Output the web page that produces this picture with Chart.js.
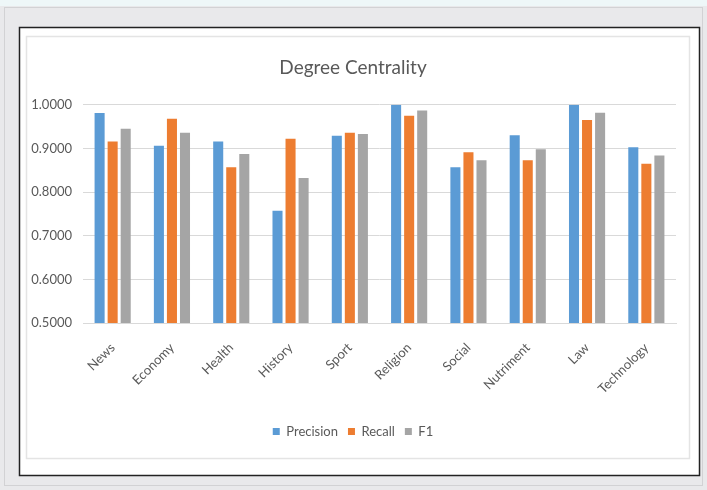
<!DOCTYPE html>
<html>
<head>
<meta charset="utf-8">
<script src="https://cdn.jsdelivr.net/npm/chart.js@4/dist/chart.umd.min.js"></script>
<style>
  html, body { margin: 0; padding: 0; background: #e9e9eb; }
  #wrap { width: 707px; height: 490px; position: relative; }
  canvas { display: block; }
</style>
</head>
<body>
<div id="wrap"><canvas id="c" width="707" height="490"></canvas></div>
<script>
// Categories and scores for the degree-centrality evaluation
const categories = ['News', 'Economy', 'Health', 'History', 'Sport', 'Religion', 'Social', 'Nutriment', 'Law', 'Technology'];
const precision = [0.981, 0.906, 0.916, 0.757, 0.929, 1.000, 0.857, 0.930, 1.000, 0.903];
const recall    = [0.916, 0.968, 0.857, 0.922, 0.936, 0.975, 0.891, 0.873, 0.965, 0.865];
const f1        = [0.945, 0.936, 0.887, 0.832, 0.933, 0.987, 0.873, 0.898, 0.982, 0.884];
const yTicks = [0.5, 0.6, 0.7, 0.8, 0.9, 1.0];

const FONT = 'Lato, "Open Sans", sans-serif';
const TEXT = '#595959';

// Page frame: grey backdrop, black outline and the pale chart-area border
const framePlugin = {
  id: 'frame',
  beforeDraw(chart) {
    const ctx = chart.ctx;
    ctx.save();
    ctx.fillStyle = '#e9e9eb';
    ctx.fillRect(0, 0, 707, 490);
    ctx.fillStyle = '#eef7f8';
    ctx.fillRect(0, 0, 707, 6);
    ctx.strokeStyle = '#d2d2d4';
    ctx.lineWidth = 1;
    ctx.strokeRect(4.5, 7.5, 698, 478);
    ctx.fillStyle = '#ffffff';
    ctx.fillRect(19, 27, 681, 449);
    ctx.strokeStyle = '#222222';
    ctx.lineWidth = 1.5;
    ctx.strokeRect(19.5, 27.5, 680, 448);
    ctx.strokeStyle = '#e4e4e4';
    ctx.lineWidth = 1.5;
    ctx.strokeRect(26.5, 36.5, 663, 422);
    ctx.restore();
  }
};

new Chart(document.getElementById('c'), {
  type: 'bar',
  data: {
    labels: categories,
    datasets: [
      { label: 'Precision', data: precision, backgroundColor: '#5b9bd5' },
      { label: 'Recall', data: recall, backgroundColor: '#ed7d31' },
      { label: 'F1', data: f1, backgroundColor: '#a5a5a5' }
    ]
  },
  options: {
    responsive: false,
    animation: false,
    devicePixelRatio: 1,
    datasets: { bar: { categoryPercentage: 0.66, barPercentage: 0.77 } },
    layout: { padding: { left: 30, right: 31, top: 56, bottom: 42 } },
    plugins: {
      title: {
        display: true,
        text: 'Degree Centrality',
        color: TEXT,
        font: { family: FONT, size: 19, weight: 'normal' },
        padding: { top: 0, bottom: 26 }
      },
      legend: {
        position: 'bottom',
        labels: {
          color: TEXT,
          font: { family: FONT, size: 13 },
          boxWidth: 7,
          boxHeight: 7,
          padding: 10
        }
      },
      tooltip: { enabled: false }
    },
    scales: {
      x: {
        grid: { display: false },
        border: { display: true, color: '#d9d9d9' },
        ticks: {
          color: TEXT,
          font: { family: FONT, size: 13 },
          minRotation: 45,
          maxRotation: 45,
          padding: 9
        },
        afterFit(s) { s.height = 92; }
      },
      y: {
        min: 0.5,
        max: 1.0,
        afterBuildTicks(s) { s.ticks = yTicks.map(v => ({ value: v })); },
        grid: { color: '#d9d9d9', drawTicks: false },
        border: { display: false },
        ticks: {
          color: TEXT,
          font: { family: FONT, size: 13 },
          padding: 11,
          callback: v => Number(v).toFixed(4)
        },
        afterFit(s) { s.width = 53; }
      }
    }
  },
  plugins: [framePlugin]
});
</script>
</body>
</html>
